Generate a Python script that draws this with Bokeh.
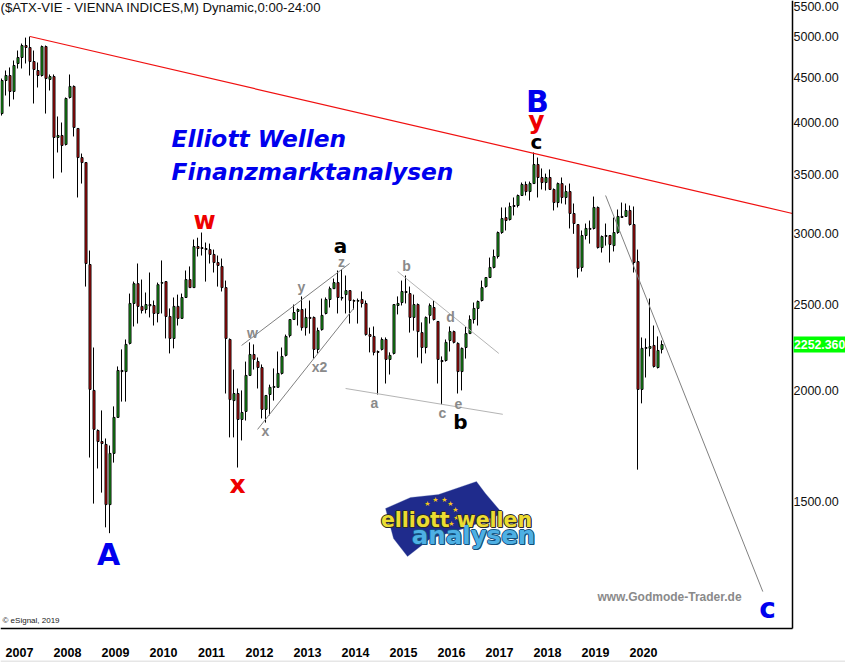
from bokeh.plotting import figure
from bokeh.embed import file_html
from bokeh.resources import INLINE
from bokeh.models import Label, FixedTicker, PrintfTickFormatter, BoxAnnotation, PolyAnnotation

years = [2007,2008,2009,2010,2011,2012,2013,2014,2015,2016,2017,2018,2019,2020]
price_ticks = [1500,2000,2500,3000,3500,4000,4500,5000]
open_ = [4096,4462,4520,4337,4663,4736,4885,4860,4687,4579,4520,4872,4474,4508,3850,3870,3781,4270,4394,3941,3655,3608,2771,2000,1803,1752,1739,1488,1699,1865,2106,2100,2259,2505,2637,2486,2466,2498,2492,2441,2640,2651,2422,2288,2486,2410,2544,2665,2610,2903,2895,2888,2880,2844,2785,2757,2610,2282,1948,1984,1855,1894,2079,2195,2155,2122,1904,1979,2016,2016,2090,2190,2305,2403,2454,2466,2353,2416,2416,2224,2341,2441,2531,2603,2644,2544,2563,2590,2524,2520,2531,2505,2311,2300,2212,2224,2282,2167,2201,2492,2511,2577,2570,2416,2498,2323,2235,2429,2479,2391,2161,2161,2276,2329,2259,2100,2235,2317,2403,2473,2524,2617,2679,2750,2829,3010,3129,3113,3228,3228,3313,3409,3347,3417,3590,3471,3426,3471,3365,3253,3417,3296,3347,3162,3073,2750,2987,3042,3042,3212,2895,2987,2987,2910,3010,3138,3138,3187,3073,2792,2005,2235,2230,2247,2122,2224]
high = [4485,4579,4615,4699,4822,4910,4986,5000,4822,4675,4885,4885,4532,4532,4065,4002,4270,4532,4405,3941,3693,3608,2873,2235,1808,1899,1766,1734,1919,2128,2224,2282,2570,2651,2778,2665,2577,2714,2524,2644,2800,2651,2473,2544,2563,2570,2728,2757,2956,2970,3010,2933,2925,2880,2836,2814,2658,2288,2111,2010,2000,2155,2265,2253,2178,2139,1974,2030,2117,2212,2235,2311,2403,2498,2473,2551,2473,2524,2422,2353,2537,2544,2617,2672,2728,2735,2693,2590,2531,2537,2584,2524,2353,2360,2218,2294,2294,2207,2498,2551,2658,2693,2617,2563,2505,2385,2422,2505,2524,2391,2184,2282,2360,2335,2265,2235,2360,2429,2511,2524,2658,2679,2821,2880,3018,3212,3212,3253,3296,3321,3426,3435,3435,3703,3655,3553,3506,3544,3374,3426,3471,3400,3417,3245,3073,3026,3081,3105,3304,3220,2987,3081,2987,3129,3195,3253,3245,3228,3220,2880,2294,2288,2537,2366,2300,2276]
low = [4075,4292,4172,4248,4603,4603,4663,4520,4204,4382,4508,4096,4348,3462,3703,3516,3771,4259,3860,3296,3417,2617,1681,1492,1634,1535,1403,1382,1659,1865,1943,1943,2253,2360,2378,2441,2441,2416,2366,2385,2441,2288,2201,2230,2366,2410,2544,2610,2610,2829,2836,2651,2778,2714,2617,2584,1984,1771,1771,1638,1757,1850,2079,2111,2010,1860,1840,1875,1948,2016,2084,2184,2294,2403,2366,2335,2305,2317,2172,2201,2335,2435,2479,2603,2441,2524,2441,2378,2466,2378,2479,2305,2207,2190,1979,2218,2036,2084,2195,2435,2492,2505,2323,2335,2178,2145,2201,2378,2397,2036,1929,2155,2212,2259,1984,2000,2172,2317,2378,2366,2518,2610,2679,2743,2814,3000,3026,3105,3146,3212,3313,3313,3270,3417,3296,3365,3356,3365,3187,3212,3245,3237,3042,3000,2679,2721,2956,2925,3034,2888,2858,2910,2785,2866,3000,3129,3138,3065,2714,1629,1934,2068,2184,2122,2117,2201]
close = [4462,4520,4337,4639,4736,4885,4860,4687,4591,4520,4872,4485,4508,3850,3870,3771,4259,4394,3951,3655,3608,2778,2005,1808,1752,1743,1488,1699,1865,2106,2100,2253,2505,2637,2486,2460,2498,2490,2441,2630,2644,2422,2288,2486,2410,2544,2665,2610,2903,2888,2888,2880,2844,2785,2764,2610,2288,1953,1984,1855,1889,2079,2195,2167,2122,1904,1974,2016,2020,2090,2184,2300,2403,2447,2466,2353,2416,2410,2224,2335,2429,2531,2603,2644,2544,2540,2590,2524,2520,2524,2505,2311,2300,2207,2207,2282,2167,2190,2498,2505,2584,2584,2416,2498,2329,2235,2416,2492,2403,2167,2155,2265,2329,2265,2100,2230,2317,2403,2473,2518,2610,2679,2750,2829,3010,3121,3105,3220,3220,3313,3409,3347,3417,3590,3471,3426,3471,3365,3253,3417,3296,3347,3162,3081,2743,2987,3042,3035,3212,2895,2979,2980,2918,3010,3138,3130,3187,3073,2785,2005,2230,2230,2241,2128,2218,2252.36]

red_line = ([7, 197.625], [5000, 3162])
gray_lines = [
    ([59.9, 86.9], [2247, 2778], "#808080"),
    ([63.9, 87.9], [1808, 2473], "#808080"),
    ([85.9, 125.2], [2010, 1880], "#b4b4b4"),
    ([98.9, 124.2], [2721, 2201], "#b4b4b4"),
    ([150.9, 190.2], [3313, 1188], "#808080"),
]
H = 662
AXIS_X, AXIS_Y = 197.625, 1080

p = figure(width=845, height=662, output_backend="svg", toolbar_location=None,
           x_range=(-0.375, 210.875), y_range=(988.7, 5489), y_axis_type="log",
           y_axis_location="right", x_axis_location="below",
           min_border_left=0, min_border_right=0, min_border_top=0, min_border_bottom=0,
           background_fill_color="white", border_fill_color="white", outline_line_color=None)
p.grid.visible = False

ax = p.yaxis[0]
ax.fixed_location = AXIS_X
ax.bounds = (AXIS_Y, 5489)
ax.ticker = FixedTicker(ticks=price_ticks, minor_ticks=[])
ax.formatter = PrintfTickFormatter(format="%.2f")
ax.major_tick_line_color = None
ax.minor_tick_line_color = None
ax.major_tick_out = 0
ax.major_tick_in = 0
ax.minor_tick_out = 0
ax.minor_tick_in = 0
ax.axis_line_color = "black"
ax.axis_line_width = 1.5
ax.major_label_standoff = 1
ax.major_label_text_font = "Liberation Sans"
ax.major_label_text_font_size = "12.5px"
ax.major_label_text_color = "#101010"

xa = p.xaxis[0]
tick_pos = [4.375 + 12 * k for k in range(len(years))]
xa.fixed_location = AXIS_Y
xa.bounds = (-0.375, AXIS_X)
xa.ticker = FixedTicker(ticks=tick_pos, minor_ticks=[])
xa.major_label_overrides = {t: str(y) for t, y in zip(tick_pos, years)}
xa.major_tick_line_color = None
xa.minor_tick_line_color = None
xa.axis_line_color = "black"
xa.axis_line_width = 1.5
xa.major_label_standoff = 14
xa.major_label_text_font = "Liberation Sans"
xa.major_label_text_font_style = "bold"
xa.major_label_text_font_size = "12.5px"
xa.major_label_text_color = "black"

idx = list(range(len(close)))
wick_x = [i - 0.125 for i in idx]
body_top = [max(a, b) for a, b in zip(open_, close)]
body_bottom = [min(a, b) for a, b in zip(open_, close)]
p.segment(wick_x, body_top, wick_x, high, line_color="black", line_width=1)
p.segment(wick_x, low, wick_x, body_bottom, line_color="black", line_width=1)
up = [i for i in idx if close[i] >= open_[i]]
dn = [i for i in idx if close[i] < open_[i]]
p.vbar(up, 0.5, [open_[i] for i in up], [close[i] for i in up],
       fill_color="#1fc01f", line_color="black", line_width=1)
p.vbar(dn, 0.5, [open_[i] for i in dn], [close[i] for i in dn],
       fill_color="#e01010", line_color="black", line_width=1)

p.line(red_line[0], red_line[1], line_color="#f01010", line_width=1.2)
for xs, ys, c in gray_lines:
    p.line(xs, ys, line_color=c, line_width=1)


def lab(text, x, y, size, color, font="Liberation Sans", style="normal", align="center"):
    p.add_layout(Label(x=x, y=H - y, x_units="screen", y_units="screen", text=text,
                       text_font=font, text_font_size=f"{size}px", text_font_style=style,
                       text_color=color, text_align=align, text_baseline="middle"))


def box(x0, x1, y0, y1, color):
    p.add_layout(BoxAnnotation(left=x0, right=x1, top=H - y0, bottom=H - y1,
                               left_units="screen", right_units="screen", top_units="screen", bottom_units="screen",
                               fill_color=color, fill_alpha=1, line_color=None))


# flag logo
flag_x = [385, 410, 438, 476, 485, 502, 467, 430, 407, 393]
flag_y = [508, 497, 494, 481, 493, 513, 527, 538, 556, 538]
p.add_layout(PolyAnnotation(xs=flag_x, ys=[H - v for v in flag_y], xs_units="screen", ys_units="screen",
                            fill_color="#1f2b8c", fill_alpha=1, line_color="#5a6fb0", line_width=1))
for sx, sy in [(427, 503), (435, 499), (444, 499), (450, 503), (455, 509), (456, 517), (451, 523)]:
    lab("★", sx, sy, 7, "#f5c518", font="DejaVu Sans")
for dx, dy in [(-1, 0), (1, 0), (0, -1), (0, 1), (1, 1)]:
    lab("elliott wellen", 456 + dx, 519 + dy, 20.5, "#2a2a30", font="DejaVu Sans", style="bold")
    lab("analysen", 473 + dx, 535 + dy, 24.5, "#14507c", font="DejaVu Sans", style="bold")
lab("elliott wellen", 456, 519, 20.5, "#ecdc30", font="DejaVu Sans", style="bold")
lab("analysen", 473, 535, 24.5, "#4eb0e4", font="DejaVu Sans", style="bold")

# header and footer
lab("($ATX-VIE - VIENNA INDICES,M) Dynamic,0:00-24:00", 0, 7, 13.2, "#101010", align="left")
lab("© eSignal, 2019", 2, 620, 8, "#202020", align="left")
lab("www.Godmode-Trader.de", 669, 596, 12, "#8a8a8a", style="bold")
lab("5500.00", 793, 6, 12.5, "#101010", align="left")

# price tag
box(793, 845, 336, 352, "#00ff00")
lab("2252.360", 793.5, 344, 12.3, "white", style="bold", align="left")

# headline
lab("Elliott Wellen", 171, 138, 23.3, "#0000ee", font="DejaVu Sans", style="bold italic", align="left")
lab("Finanzmarktanalysen", 171, 171, 23.3, "#0000ee", font="DejaVu Sans", style="bold italic", align="left")

# wave marks
for t, x, y, s, c in [
    ("A", 108, 554, 30, "#0000ee"), ("B", 537, 101, 30, "#0000ee"), ("c", 767, 608, 28, "#0000ee"),
    ("w", 204, 220, 24, "#ee0000"), ("x", 237, 484, 25, "#ee0000"), ("y", 536, 120, 25, "#ee0000"),
    ("c", 536, 141, 20, "black"), ("a", 340, 245, 20, "black"), ("b", 460, 421, 20, "black"),
]:
    lab(t, x, y, s, c, font="DejaVu Sans", style="bold")
for t, x, y in [("w", 252, 332), ("y", 301, 286), ("z", 341, 261), ("x2", 319, 366), ("x", 265, 430),
                ("a", 374, 402), ("b", 406, 265), ("c", 442, 412), ("d", 450, 316), ("e", 458, 403)]:
    lab(t, x, y, 14, "#8a8a8a", style="bold")

box(0, 845, 660, 662, "#e6e6e6")

open("out.html", "w").write(file_html(p, INLINE))
